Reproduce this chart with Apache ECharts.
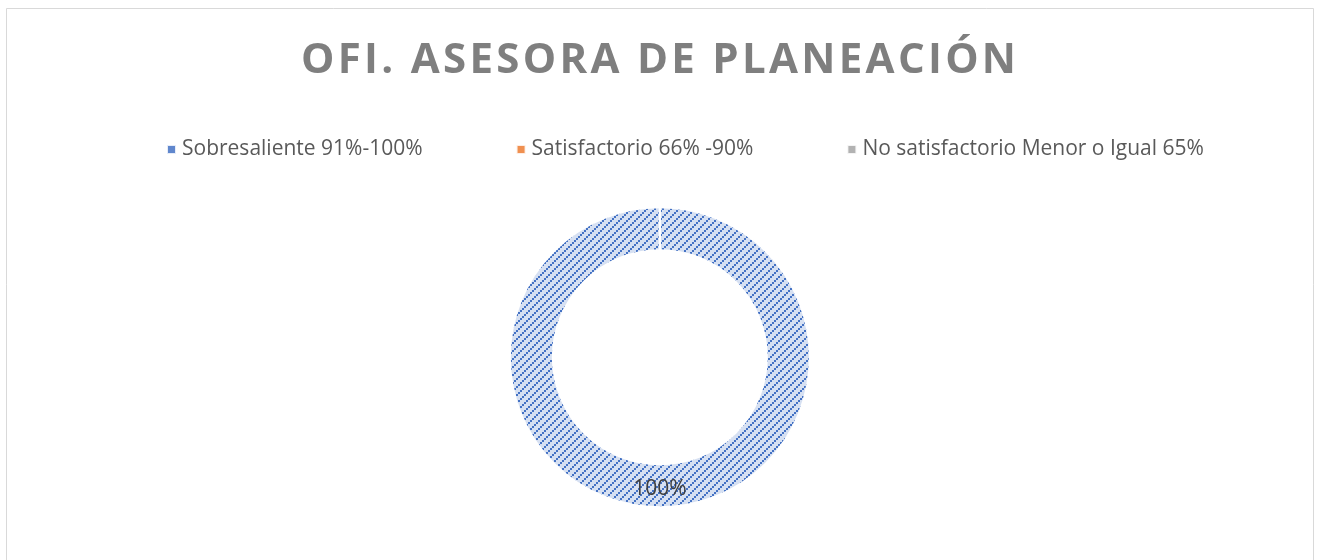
<!DOCTYPE html>
<html><head><meta charset="utf-8">
<script src="https://cdn.jsdelivr.net/npm/echarts@6/dist/echarts.min.js"></script>
<style>
html,body{margin:0;padding:0;background:#fff}
#wrap{position:relative;width:1317px;height:560px}
#c{width:1317px;height:560px}
#t{position:absolute;left:0;top:36px;width:1317px;text-align:center;font-family:'Open Sans';font-weight:bold;font-size:42px;line-height:42px;color:#7f7f7f;letter-spacing:3.3px;padding-left:3.3px;box-sizing:border-box;white-space:nowrap;pointer-events:none}
</style>
</head><body><div id="wrap"><div id="c"></div><div id="t"></div></div>
<script>
const titleText = 'OFI. ASESORA DE PLANEACIÓN';
const categories = ['Sobresaliente 91%-100%', 'Satisfactorio 66% -90%', 'No satisfactorio Menor o Igual 65%'];
const values = [100, 0, 0];
const colors = ['#4472C4', '#ED7D31', '#A5A5A5'];
const lights = ['#d6e0f2', '#fbe0cd', '#e8e8e8'];

document.getElementById('t').textContent = titleText;

function pattern(fg, bg) {
  const s = 8;
  const c = document.createElement('canvas');
  c.width = s; c.height = s;
  const g = c.getContext('2d');
  g.fillStyle = bg; g.fillRect(0, 0, s, s);
  g.fillStyle = fg;
  g.fillRect(0, 6, 2, 2);
  g.fillRect(2, 4, 2, 2);
  g.fillRect(4, 2, 2, 2);
  g.fillRect(6, 0, 2, 2);
  return { image: c, repeat: 'repeat' };
}

function edgeShade(rgb) {
  return {
    type: 'radial', x: 0.5, y: 0.5, r: 0.5,
    colorStops: [
      { offset: 0, color: 'rgba(' + rgb + ',0)' },
      { offset: 0.712, color: 'rgba(' + rgb + ',0.3)' },
      { offset: 0.76, color: 'rgba(' + rgb + ',0)' },
      { offset: 0.95, color: 'rgba(' + rgb + ',0)' },
      { offset: 1, color: 'rgba(' + rgb + ',0.3)' }
    ]
  };
}
const rgbs = ['68,114,196', '237,125,49', '165,165,165'];

const total = values.reduce((a, b) => a + b, 0);
const chart = echarts.init(document.getElementById('c'));
const pieBase = {
  type: 'pie',
  center: ['50.1%', '63.8%'],
  radius: [107, 150],
  startAngle: 90,
  clockwise: true,
  avoidLabelOverlap: false,
  labelLine: { show: false },
  itemStyle: { borderColor: '#fff', borderWidth: 2 }
};
chart.setOption({
  backgroundColor: '#fff',
  legend: {
    top: 134, left: 161, itemGap: 93, itemWidth: 9, itemHeight: 9, icon: 'rect',
    textStyle: { fontFamily: 'Open Sans', fontSize: 21, color: '#595959', padding: [0, 0, 0, 1] },
    data: categories.map((n, i) => ({ name: n, itemStyle: { color: colors[i], opacity: 0.85 } }))
  },
  graphic: [{
    type: 'rect', shape: { x: 6.5, y: 8.5, width: 1307, height: 600 },
    style: { fill: 'none', stroke: '#d9d9d9', lineWidth: 1 }, silent: true
  }],
  series: [
    Object.assign({}, pieBase, {
      name: 'main',
      label: {
        show: true, position: 'inside',
        formatter: p => p.value > 0 ? Math.round(p.value / total * 100) + '%' : '',
        fontFamily: 'Open Sans', fontSize: 21, color: '#404040'
      },
      data: categories.map((n, i) => ({
        name: n, value: values[i],
        itemStyle: { color: pattern(colors[i], lights[i]) }
      }))
    }),
    Object.assign({}, pieBase, {
      name: 'shade', silent: true, z: 1,
      label: { show: false },
      data: categories.map((n, i) => ({
        name: n, value: values[i],
        itemStyle: { color: edgeShade(rgbs[i]) }
      }))
    })
  ]
});
</script></body></html>
